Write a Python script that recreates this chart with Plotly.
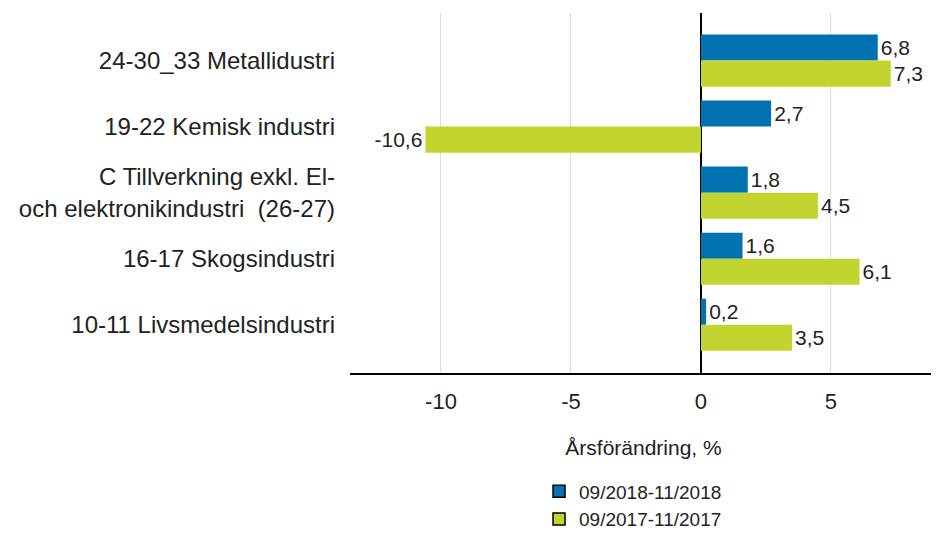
import plotly.graph_objects as go

categories = [
    "24-30_33 Metallidustri",
    "19-22 Kemisk industri",
    "C Tillverkning exkl. El-<br>och elektronikindustri  (26-27)",
    "16-17 Skogsindustri",
    "10-11 Livsmedelsindustri",
]
series_names = ["09/2018-11/2018", "09/2017-11/2017"]
values_2018 = [6.8, 2.7, 1.8, 1.6, 0.2]
values_2017 = [7.3, -10.6, 4.5, 6.1, 3.5]
tick_vals = [-10, -5, 0, 5]
tick_text = ["-10", "-5", "0", "5"]
colors = ["#0072b1", "#c2d52e"]

FONT = "Liberation Sans, Arial, sans-serif"
TXT = "#222222"

def fmt(v):
    return f"{v:.1f}".replace(".", ",")

fig = go.Figure()
for i, (name, vals, col) in enumerate(zip(series_names, [values_2018, values_2017], colors)):
    fig.add_trace(go.Bar(
        y=categories, x=vals, orientation="h", name=name,
        marker=dict(color=col, line=dict(width=0)),
        text=[fmt(v) for v in vals], textposition="outside",
        constraintext="none",
        textfont=dict(family=FONT, size=21, color=TXT),
        cliponaxis=False, showlegend=False, offsetgroup=str(i),
    ))
# legend-only entries with outlined swatches
for i, (name, col) in enumerate(zip(series_names, colors)):
    fig.add_trace(go.Bar(
        y=[None], x=[None], orientation="h", name=name,
        marker=dict(color=col, line=dict(color="#000000", width=1.5)),
        showlegend=True, offsetgroup=str(i),
    ))

fig.update_layout(
    width=939, height=535,
    margin=dict(l=342, r=10, t=5, b=168),
    paper_bgcolor="white", plot_bgcolor="white",
    barmode="group", bargap=0.21, bargroupgap=0,
    font=dict(family=FONT, size=20, color=TXT),
    legend=dict(
        x=0.322, xanchor="left", y=-0.276, yanchor="top",
        font=dict(family=FONT, size=19, color=TXT),
        traceorder="normal", bgcolor="rgba(0,0,0,0)",
        tracegroupgap=0, itemwidth=30,
    ),
    xaxis=dict(
        range=[-13.5, 9.08],
        tickvals=tick_vals, ticktext=tick_text,
        showgrid=True, gridcolor="#dcdcdc", gridwidth=1,
        zeroline=True, zerolinecolor="#000000", zerolinewidth=1.5,
        showline=True, linecolor="#000000", linewidth=1.5,
        ticks="", ticklabelstandoff=8,
        tickfont=dict(family=FONT, size=22, color=TXT),
        title=dict(text="Årsförändring, %", font=dict(family=FONT, size=21, color=TXT), standoff=27),
        automargin=False, fixedrange=True,
    ),
    yaxis=dict(
        categoryorder="array", categoryarray=categories,
        range=[4.73, -0.72],
        showgrid=False, zeroline=False, showline=False,
        ticks="", ticklabelstandoff=14,
        tickfont=dict(family=FONT, size=24, color=TXT),
        automargin=False, fixedrange=True,
    ),
)

fig.write_html("out.html")
